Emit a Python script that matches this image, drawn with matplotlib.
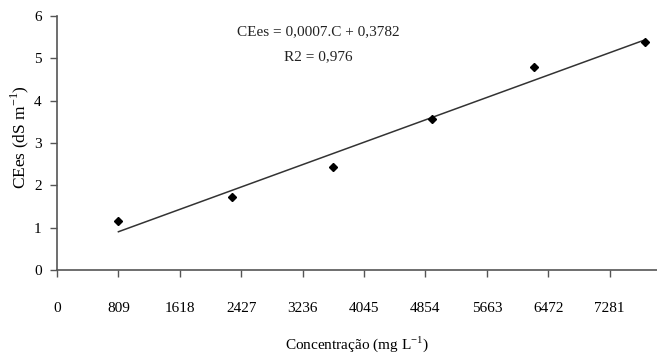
import numpy as np
import matplotlib.pyplot as plt

plt.rcParams['font.family'] = ['Liberation Serif', 'DejaVu Serif']

# dados
conc = [809, 2306, 3637, 4937, 6289, 7747]
cees = [1.16, 1.73, 2.44, 3.56, 4.79, 5.38]
xticks = [0, 809, 1618, 2427, 3236, 4045, 4854, 5663, 6472, 7281]
yticks = [0, 1, 2, 3, 4, 5, 6]

# linha de tendência (ajuste linear)
a, b = np.polyfit(conc, cees, 1)
xfit = np.array([conc[0], conc[-1]])

fig = plt.figure(figsize=(6.57, 3.58), dpi=100)
ax = fig.add_axes([57 / 657, 1 - 270 / 358, 600 / 657, 254 / 358])

ax.plot(xfit, a * xfit + b, color='#333333', lw=1.1)
ax.plot(conc, cees, 'D', color='black', ms=4.5)

ax.set_xlim(0, 7905)
ax.set_ylim(0, 6)
ax.set_xticks(xticks)
ax.set_yticks(yticks)

for s in ['top', 'right']:
    ax.spines[s].set_visible(False)
for s in ['left', 'bottom']:
    ax.spines[s].set_color('#555555')
    ax.spines[s].set_linewidth(1.2)

ax.tick_params(axis='x', direction='out', length=5, width=1, color='#555555',
               pad=18, labelsize=11)
ax.tick_params(axis='y', direction='out', length=5, width=1, color='#555555',
               pad=6, labelsize=11)

ax.set_xlabel('Concentração (mg L$^{\\mathregular{-1}}$)', fontsize=11, labelpad=14)
ax.set_ylabel('CEes (dS m$^{\\mathregular{-1}}$)', fontsize=12.5)
ax.yaxis.set_label_coords(-0.044, 0.524)

fig.text(318 / 657, 1 - 32 / 358, 'CEes = 0,0007.C + 0,3782', fontsize=11,
         ha='center', va='center', color='#222222')
fig.text(318 / 657, 1 - 57 / 358, 'R2 = 0,976', fontsize=11,
         ha='center', va='center', color='#222222')

fig.savefig('out.png', dpi=100)
